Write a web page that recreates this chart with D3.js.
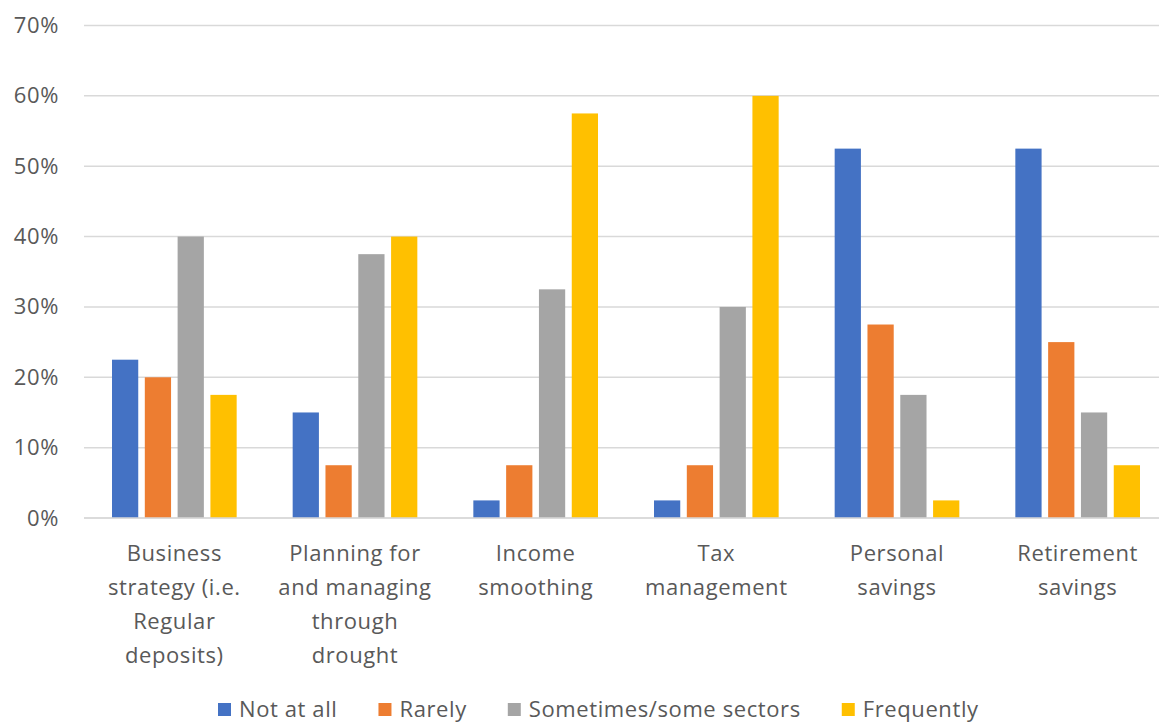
<!DOCTYPE html>
<html>
<head>
<meta charset="utf-8">
<script src="https://cdn.jsdelivr.net/npm/d3@7"></script>
<style>
  html, body { margin: 0; padding: 0; background: #fff; }
  svg { display: block; }
  text { font-family: "Open Sans", "Liberation Sans", sans-serif; fill: #595959; }
</style>
</head>
<body>
<svg id="chart" width="1159" height="722"></svg>
<script>
const categories = [
  "Business strategy (i.e. Regular deposits)",
  "Planning for and managing through drought",
  "Income smoothing",
  "Tax management",
  "Personal savings",
  "Retirement savings"
];
const categoryLines = [
  ["Business", "strategy (i.e.", "Regular", "deposits)"],
  ["Planning for", "and managing", "through", "drought"],
  ["Income", "smoothing"],
  ["Tax", "management"],
  ["Personal", "savings"],
  ["Retirement", "savings"]
];
const seriesNames = ["Not at all", "Rarely", "Sometimes/some sectors", "Frequently"];
const seriesColors = ["#4472C4", "#ED7D31", "#A5A5A5", "#FFC000"];
const notAtAll  = [22.5, 15, 2.5, 2.5, 52.5, 52.5];
const rarely    = [20, 7.5, 7.5, 7.5, 27.5, 25];
const sometimes = [40, 37.5, 32.5, 30, 17.5, 15];
const frequently= [17.5, 40, 57.5, 60, 2.5, 7.5];
const seriesValues = [notAtAll, rarely, sometimes, frequently];
const yTicks = [0, 10, 20, 30, 40, 50, 60, 70];

const svg = d3.select("#chart");
const mLeft = 84, mRight = 1168, mTop = 25.5, mBottom = 518;
const fs = "22px", ls = "0.6px";

const x0 = d3.scaleBand().domain(categories).range([mLeft, mRight])
  .paddingInner(0.31).paddingOuter(0.155);
const x1 = d3.scaleBand().domain(seriesNames).range([0, x0.bandwidth()])
  .paddingInner(0.2).paddingOuter(0);
const y = d3.scaleLinear().domain([0, 70]).range([mBottom, mTop]);

// gridlines
svg.append("g").selectAll("line").data(yTicks).join("line")
  .attr("x1", mLeft).attr("x2", mRight)
  .attr("y1", d => y(d)).attr("y2", d => y(d))
  .attr("stroke", "#D9D9D9").attr("stroke-width", 1.5);

// y labels
const yAxis = d3.axisLeft(y).tickValues(yTicks).tickFormat(d => d + "%").tickSize(0).tickPadding(0);
const ya = svg.append("g").attr("transform", `translate(59,0)`).call(yAxis);
ya.select(".domain").remove();
ya.selectAll("text").style("font-size", fs).style("letter-spacing", ls).attr("fill", "#595959")
  .style("font-family", '"Open Sans", sans-serif');

// bars
const groups = svg.append("g").selectAll("g").data(categories).join("g")
  .attr("transform", d => `translate(${x0(d)},0)`);
groups.selectAll("rect")
  .data((c, i) => seriesNames.map((s, j) => ({ s, j, v: seriesValues[j][i] })))
  .join("rect")
  .attr("x", d => x1(d.s))
  .attr("width", x1.bandwidth())
  .attr("y", d => y(d.v))
  .attr("height", d => y(0) - y(d.v))
  .attr("fill", d => seriesColors[d.j]);

// baseline
svg.append("line").attr("x1", mLeft).attr("x2", mRight)
  .attr("y1", y(0)).attr("y2", y(0)).attr("stroke", "#D9D9D9").attr("stroke-width", 1.5);

// category labels
const labG = svg.append("g");
categories.forEach((c, i) => {
  const cx = x0(c) + x0.bandwidth() / 2;
  const t = labG.append("text")
    .attr("x", cx)
    .attr("y", 561)
    .attr("text-anchor", "middle")
    .style("font-size", fs).style("letter-spacing", ls);
  categoryLines[i].forEach((ln, k) => {
    t.append("tspan").attr("x", cx).attr("y", 561 + k * 34).text(ln);
  });
});

// legend
const leg = svg.append("g");
let lx = 218;
seriesNames.forEach((s, j) => {
  leg.append("rect").attr("x", lx).attr("y", 703).attr("width", 13).attr("height", 13)
    .attr("fill", seriesColors[j]);
  const t = leg.append("text").attr("x", lx + 21).attr("y", 717)
    .style("font-size", fs).style("letter-spacing", ls).text(s);
  const w = t.node().getComputedTextLength();
  lx += 21 + w + 41;
});
</script>
</body>
</html>
